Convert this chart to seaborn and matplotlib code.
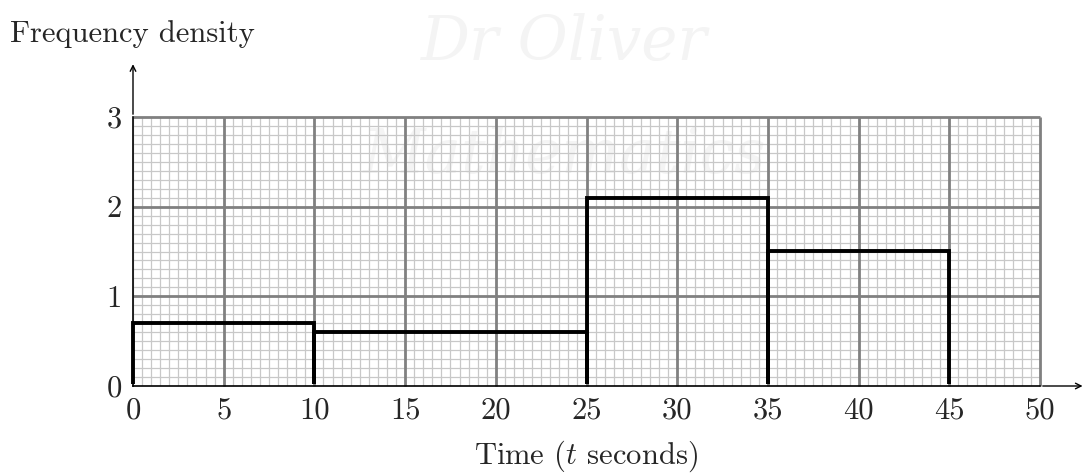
import numpy as np
import pandas as pd
import seaborn as sns
import matplotlib.pyplot as plt
from matplotlib.ticker import MultipleLocator
from matplotlib.transforms import Bbox, TransformedBbox, offset_copy

# class boundaries and frequency densities
edges = [0, 10, 25, 35, 45]
densities = [0.7, 0.6, 2.1, 1.5]
x_ticks = [0, 5, 10, 15, 20, 25, 30, 35, 40, 45, 50]
y_ticks = [0, 1, 2, 3]

mids = [(a + b) / 2 for a, b in zip(edges[:-1], edges[1:])]
df = pd.DataFrame({"t": mids, "fd": densities})

sns.set_style("white")
plt.rcParams["font.family"] = ["cmr10", "DejaVu Serif"]
plt.rcParams["mathtext.fontset"] = "cm"
plt.rcParams["axes.formatter.use_mathtext"] = True

fig = plt.figure(figsize=(10.85, 4.74), dpi=100)
ax = fig.add_axes([133 / 1085, 88 / 474, 907 / 1085, 269 / 474])

# faint watermark, kept behind the grid
for (x, y, s) in [(0.52, 0.91, "Dr Oliver"), (0.52, 0.67, "Mathematics")]:
    ax.text(x, y, s, fontsize=44, style="italic", family="DejaVu Serif",
            color="#f4f4f4", ha="center", va="center", zorder=0.1,
            transform=fig.transFigure, clip_on=False)

# graph paper: fine lines every 0.5 s / 0.1, bold lines every 5 s / 1
ax.vlines(np.arange(0, 50.01, 0.5), 0, 3, color="#c8c8c8", lw=0.9, zorder=1)
ax.hlines(np.arange(0, 3.001, 0.1), 0, 50, color="#c8c8c8", lw=0.9, zorder=1)
ax.vlines(np.arange(5, 50.01, 5), 0, 3, color="#808080", lw=2.0, zorder=2,
          clip_on=False)
ax.hlines(np.arange(1, 3.001, 1), 0, 50, color="#808080", lw=2.0, zorder=2,
          clip_on=False)

sns.histplot(data=df, x="t", weights="fd", bins=edges, fill=False,
             color="black", linewidth=2.8, ax=ax, zorder=5)

# hide the bars' bottom edge so only the thin axis shows at t axis
clip_tr = offset_copy(ax.transData, fig=fig, y=1.2, units="points")
clip_box = TransformedBbox(Bbox([[-5, 0], [60, 5]]), clip_tr)
for p in ax.patches:
    p.set_clip_box(clip_box)

ax.set_xlim(0, 50)
ax.set_ylim(0, 3)
ax.grid(False)

ax.set_xticks(x_ticks)
ax.set_xticklabels([str(v) for v in x_ticks])
ax.set_yticks(y_ticks)
ax.set_yticklabels([str(v) for v in y_ticks])
ax.tick_params(which="major", direction="inout", length=14, width=1.6,
               color="black", labelsize=22, pad=1)

for side in ["top", "right"]:
    ax.spines[side].set_visible(False)
for side in ["left", "bottom"]:
    ax.spines[side].set_color("black")
    ax.spines[side].set_linewidth(1.2)
    ax.spines[side].set_zorder(6)

# axis arrows
ax.annotate("", xy=(52.5, 0), xytext=(50, 0), annotation_clip=False,
            arrowprops=dict(arrowstyle="->", color="black", lw=1.0))
ax.annotate("", xy=(0, 3.62), xytext=(0, 3), annotation_clip=False,
            arrowprops=dict(arrowstyle="->", color="black", lw=1.0))

ax.set_xlabel("Time ($t$ seconds)", fontsize=22, labelpad=10)
ax.set_ylabel("")
fig.text(10 / 1085, 1 - 42 / 474, "Frequency density", fontsize=22,
         ha="left", va="baseline")

fig.savefig("out.png", dpi=100)
